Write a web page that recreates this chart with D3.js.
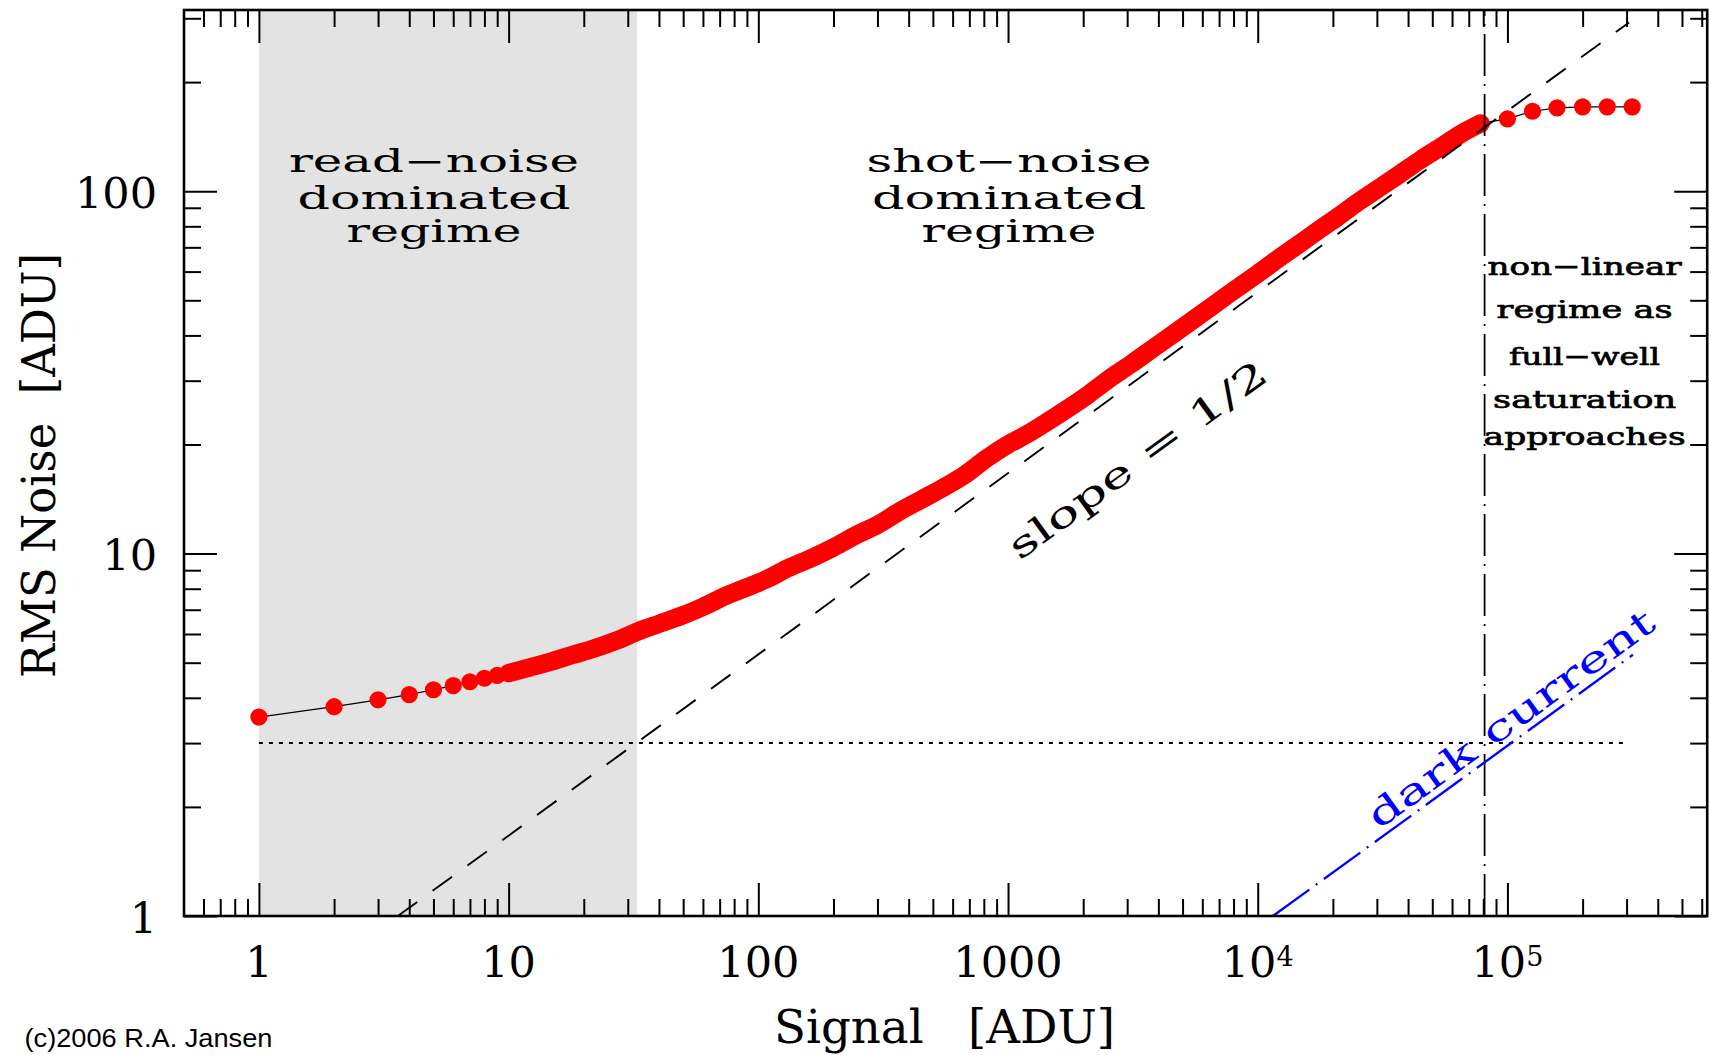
<!DOCTYPE html>
<html><head><meta charset="utf-8">
<script src="https://cdn.jsdelivr.net/npm/d3@7"></script>
<style>
html,body{margin:0;padding:0;background:#fff;}
svg{display:block;}
</style></head><body>
<svg id="chart" width="1709" height="1055"></svg>
<script>
// ---------------- data ----------------
const signalADU = [1,2,3,4,5,6,7,8,9,10,
  12,15,18,22,27,33,40,50,60,75,90,110,130,160,200,250,300,370,450,550,680,820,
  1000,1200,1450,1700,2100,2500,3100,3800,4600,5600,6800,8200,
  10000,12000,14500,17500,21000,25500,31000,37000,45000,54000,65000,78000,
  100000,126000,158000,200000,251000,316000];
const rmsNoiseADU = [3.54,3.78,3.95,4.08,4.21,4.32,4.43,4.53,4.61,4.68,
  4.84,5.05,5.25,5.47,5.75,6.10,6.40,6.76,7.13,7.67,8.07,8.55,9.08,9.66,10.4,11.3,12.0,13.1,14.1,15.2,16.6,18.3,
  20.0,21.4,23.2,24.9,27.5,30.1,33.3,36.8,40.4,44.5,49.0,53.8,
  59.2,64.9,71.1,78.0,85.1,93.8,102.6,111.4,122.2,132.4,143.9,153.8,
  158.3,166.2,169.8,170.9,170.9,170.9];
const denseRange = [10, 78000];            // signals where the dots merge into a band
const xMajorTicks = [1,10,100,1000,1e4,1e5];
const xTickBase = ["1","10","100","1000","10","10"];
const xTickExp  = ["","","","","4","5"];
const yMajorTicks = [1,10,100];
const yTickLabels = ["1","10","100"];
const readNoiseLevel = 3;                  // dotted horizontal line
const readNoiseSpan = [1, 300000];
const shotNoiseLine = [[3.6,1],[307000,292]];     // dashed, slope 1/2
const darkCurrentLine = [[11500,1],[318000,5.26]]; // blue dash-dot
const fullWellSignal = 81000;              // vertical dash-dot
const readRegimeSpan = [1, 32.7];          // grey band

// ---------------- layout ----------------
const svg = d3.select("#chart");
const L = 184, R = 1707.2, T = 10, B = 916;
const x = d3.scaleLog().domain([Math.pow(10,-0.3), Math.pow(10,5.8)]).range([L, R]);
const y = d3.scaleLog().domain([1, Math.pow(10,2.5)]).range([B, T]);
const SERIF = "'DejaVu Serif', 'Liberation Serif', serif";
const ANGLE = Math.atan((y(1)-y(10))*0.5/(x(10)-x(1)))*180/Math.PI;

// grey band
svg.append("rect")
  .attr("x", x(readRegimeSpan[0])).attr("y", T)
  .attr("width", x(readRegimeSpan[1]) - x(readRegimeSpan[0]))
  .attr("height", B - T).attr("fill", "#e3e3e3");

const line = d3.line().x(d => x(d[0])).y(d => y(d[1]));
const lineSmooth = d3.line().x(d => x(d[0])).y(d => y(d[1])).curve(d3.curveMonotoneX);
const pts = signalADU.map((s,i) => [s, rmsNoiseADU[i]]);

// thin connecting line
svg.append("path").attr("d", line(pts)).attr("fill","none")
  .attr("stroke","#000").attr("stroke-width",1.2);
// dense band of overlapping dots
const dense = pts.filter(p => p[0] >= denseRange[0] && p[0] <= denseRange[1]);
svg.append("path").attr("d", lineSmooth(dense)).attr("fill","none")
  .attr("stroke","#ff0000").attr("stroke-width",18.5)
  .attr("stroke-linecap","round").attr("stroke-linejoin","round");
svg.append("g").selectAll("circle").data(pts).join("circle")
  .attr("cx", d => x(d[0])).attr("cy", d => y(d[1])).attr("r", 8.6)
  .attr("fill", "#ff0000");

// reference lines
svg.append("path").attr("d", line([[readNoiseSpan[0],readNoiseLevel],[readNoiseSpan[1],readNoiseLevel]]))
  .attr("stroke","#000").attr("stroke-width",2).attr("stroke-dasharray","4,6").attr("fill","none");
svg.append("path").attr("d", line(shotNoiseLine))
  .attr("stroke","#000").attr("stroke-width",1.9).attr("stroke-dasharray","24,19").attr("fill","none");
svg.append("path").attr("d", line([[fullWellSignal,1],[fullWellSignal,Math.pow(10,2.5)]]))
  .attr("stroke","#000").attr("stroke-width",1.8).attr("stroke-dasharray","42,8,2,8").attr("fill","none");
svg.append("path").attr("d", line(darkCurrentLine))
  .attr("stroke","#0000ff").attr("stroke-width",2.3).attr("stroke-dasharray","45,8,2,8").attr("fill","none");

// ---------------- annotations ----------------
function txt(px, py, s, size, len, opt) {
  opt = opt || {};
  const t = svg.append("text").attr("x", px).attr("y", py)
    .attr("font-family", opt.family || SERIF).attr("font-size", size)
    .attr("text-anchor", opt.anchor || "middle")
    .attr("fill", opt.fill || "#000")
    .attr("font-weight", opt.weight || "normal")
    .text(s);
  if (opt.stroke) t.attr("stroke", opt.fill || "#000").attr("stroke-width", opt.stroke);
  if (len) t.attr("textLength", len).attr("lengthAdjust", "spacingAndGlyphs");
  if (opt.rotate !== undefined) t.attr("transform", `rotate(${opt.rotate},${px},${py})`);
  return t;
}
txt(434, 172, "read\u2212noise", 31, 290);
txt(434, 208.5, "dominated", 31, 273);
txt(434, 242, "regime", 31, 175);
txt(1009, 172, "shot\u2212noise", 31, 285);
txt(1009, 208.5, "dominated", 31, 274);
txt(1009, 242, "regime", 31, 175);

txt(1584.6, 275, "non\u2212linear", 25, 194, {stroke:0.7});
txt(1584.6, 318, "regime as", 25, 176, {stroke:0.7});
txt(1584.6, 365, "full\u2212well", 25, 151, {stroke:0.7});
txt(1584.6, 408, "saturation", 25, 183, {stroke:0.7});
txt(1584.6, 445, "approaches", 25, 202, {stroke:0.7});

txt(1145, 470, "slope = 1/2", 36, 310, {rotate: -ANGLE});
txt(1518, 729, "dark current", 36, 345, {rotate: -ANGLE, fill:"#0000ff"});

// ---------------- axes ----------------
const xMinor = x.ticks().filter(v => !xMajorTicks.some(m => Math.abs(m - v) / m < 1e-6));
const yMinor = y.ticks().filter(v => !yMajorTicks.some(m => Math.abs(m - v) / m < 1e-6));
function drawAxis(gen, tx, ty) {
  const g = svg.append("g").attr("transform", `translate(${tx},${ty})`).call(gen);
  g.select(".domain").remove();
  g.selectAll("line").attr("stroke","#000").attr("stroke-width",2);
  return g;
}
drawAxis(d3.axisBottom(x).tickValues(xMajorTicks).tickSize(-33).tickSizeOuter(0).tickFormat(""), 0, B);
drawAxis(d3.axisBottom(x).tickValues(xMinor).tickSize(-17).tickSizeOuter(0).tickFormat(""), 0, B);
drawAxis(d3.axisTop(x).tickValues(xMajorTicks).tickSize(-33).tickSizeOuter(0).tickFormat(""), 0, T);
drawAxis(d3.axisTop(x).tickValues(xMinor).tickSize(-17).tickSizeOuter(0).tickFormat(""), 0, T);
drawAxis(d3.axisLeft(y).tickValues(yMajorTicks).tickSize(-33).tickSizeOuter(0).tickFormat(""), L, 0);
drawAxis(d3.axisLeft(y).tickValues(yMinor).tickSize(-17).tickSizeOuter(0).tickFormat(""), L, 0);
drawAxis(d3.axisRight(y).tickValues(yMajorTicks).tickSize(-33).tickSizeOuter(0).tickFormat(""), R, 0);
drawAxis(d3.axisRight(y).tickValues(yMinor).tickSize(-17).tickSizeOuter(0).tickFormat(""), R, 0);

svg.append("rect").attr("x", L).attr("y", T).attr("width", R - L).attr("height", B - T)
  .attr("fill","none").attr("stroke","#000").attr("stroke-width",2.6);

// tick labels
xMajorTicks.forEach((v, i) => {
  const t = svg.append("text").attr("x", x(v)).attr("y", 977)
    .attr("font-family", SERIF).attr("font-size", 43).attr("text-anchor","middle");
  t.append("tspan").text(xTickBase[i]);
  if (xTickExp[i]) t.append("tspan").attr("font-size", 27).attr("dy", -11).text(xTickExp[i]);
});
yMajorTicks.forEach((v, i) => {
  svg.append("text").attr("x", 157).attr("y", y(v) + 16.5)
    .attr("font-family", SERIF).attr("font-size", 43).attr("text-anchor","end")
    .text(yTickLabels[i]);
});

// axis titles
txt(944.5, 1043, "Signal\u00a0\u00a0\u00a0[ADU]", 46, 341);
txt(55.5, 465.4, "RMS Noise\u00a0\u00a0[ADU]", 46, 425, {rotate: -90});
txt(24.5, 1046.5, "(c)2006 R.A. Jansen", 25, 248,
    {family: "'Liberation Sans', Arial, sans-serif", anchor: "start"});
</script>
</body></html>
